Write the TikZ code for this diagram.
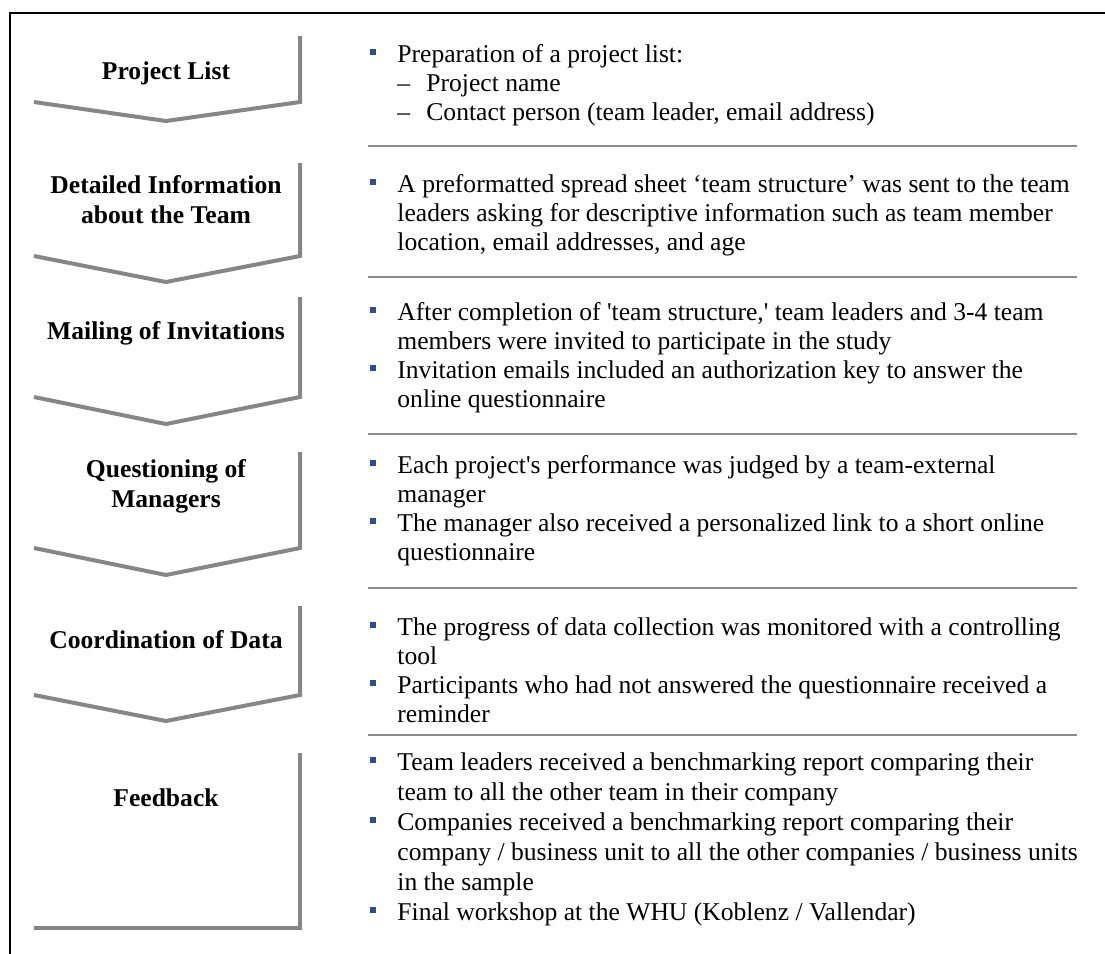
\documentclass[tikz,border=0pt]{standalone}
\usepackage{fontspec}
\newfontfamily\bodyfont{Liberation Serif}
\usepackage{tikz}
\usetikzlibrary{calc}

\definecolor{chevgray}{RGB}{134,134,134}
\definecolor{rulegray}{RGB}{140,140,140}
\definecolor{bulblue}{RGB}{46,74,154}

\newcommand{\bulsq}{\textcolor{bulblue}{\rule[3.3pt]{3pt}{3pt}}}
\newcommand{\bitem}{\par\hangindent=13.5pt\hangafter=1\noindent\makebox[13.5pt][l]{\bulsq}}
\newcommand{\subdash}{\makebox[14.5pt][l]{–}}
\newcommand{\steptext}[2][14.5pt]{\parbox[t]{370pt}{\bodyfont\fontsize{12.8pt}{#1}\selectfont #2}}

\begin{document}
\begin{tikzpicture}[x=0.5pt,y=-0.5pt]
  \tikzstyle{chev}=[draw=chevgray,line width=2pt,line join=miter]
  \tikzstyle{sep}=[draw=rulegray,line width=1pt]
  \tikzstyle{ttl}=[font=\bodyfont\bfseries\fontsize{12.8pt}{15pt}\selectfont,align=center,inner sep=0pt]
  \tikzstyle{desc}=[anchor=base west,inner sep=0pt]

  \useasboundingbox (0,0) rectangle (1105,954);

  % frame
  \draw[line width=1pt] (10,954) -- (10,13) -- (1105,13);

  % left column
  \path[chev] (34,102) -- (166,121) -- (300,102) -- (300,36);
  \path[chev] (34,256) -- (166,282) -- (300,256) -- (300,163);
  \path[chev] (34,397) -- (166,424) -- (300,397) -- (300,297);
  \path[chev] (34,548) -- (166,575) -- (300,548) -- (300,452);
  \path[chev] (34,695) -- (166,721) -- (300,695) -- (300,606);
  \path[chev] (34,928) -- (300,928) -- (300,753);

  \node[ttl] (list)     at (166,73)  {Project List};
  \node[ttl] (info)     at (166,200) {Detailed Information\\about the Team};
  \node[ttl] (mailing)  at (166,333) {Mailing of Invitations};
  \node[ttl] (managers) at (166,486) {Questioning of\\Managers};
  \node[ttl] (coord)    at (166,640) {Coordination of Data};
  \node[ttl] (feedback) at (166,798) {Feedback};

  % right column
  \path[sep] (368,146) -- (1077,146);
  \path[sep] (368,277) -- (1077,277);
  \path[sep] (368,434) -- (1077,434);
  \path[sep] (368,588) -- (1077,588);
  \path[sep] (368,735) -- (1077,735);

  \node[desc] (listtxt) at (370,62) {\steptext{%
    \bitem Preparation of a project list:\\
    \subdash Project name\\
    \subdash Contact person (team leader, email address)}};
  \node[desc] (infotxt) at (370,192) {\steptext{%
    \bitem A preformatted spread sheet ‘team structure’ was sent to the team\\
    leaders asking for descriptive information such as team member\\
    location, email addresses, and age}};
  \node[desc] (mailtxt) at (370,320) {\steptext{%
    \bitem After completion of 'team structure,' team leaders and 3-4 team\\
    members were invited to participate in the study
    \bitem Invitation emails included an authorization key to answer the\\
    online questionnaire}};
  \node[desc] (mgrtxt) at (370,473) {\steptext{%
    \bitem Each project's performance was judged by a team-external\\
    manager
    \bitem The manager also received a personalized link to a short online\\
    questionnaire}};
  \node[desc] (coordtxt) at (370,635) {\steptext{%
    \bitem The progress of data collection was monitored with a controlling\\
    tool
    \bitem Participants who had not answered the questionnaire received a\\
    reminder}};
  \node[desc] (feedtxt) at (370,770) {\steptext[15pt]{%
    \bitem Team leaders received a benchmarking report comparing their\\
    team to all the other team in their company
    \bitem Companies received a benchmarking report comparing their\\
    company / business unit to all the other companies / business units\\
    in the sample
    \bitem Final workshop at the WHU (Koblenz / Vallendar)}};
\end{tikzpicture}
\end{document}
